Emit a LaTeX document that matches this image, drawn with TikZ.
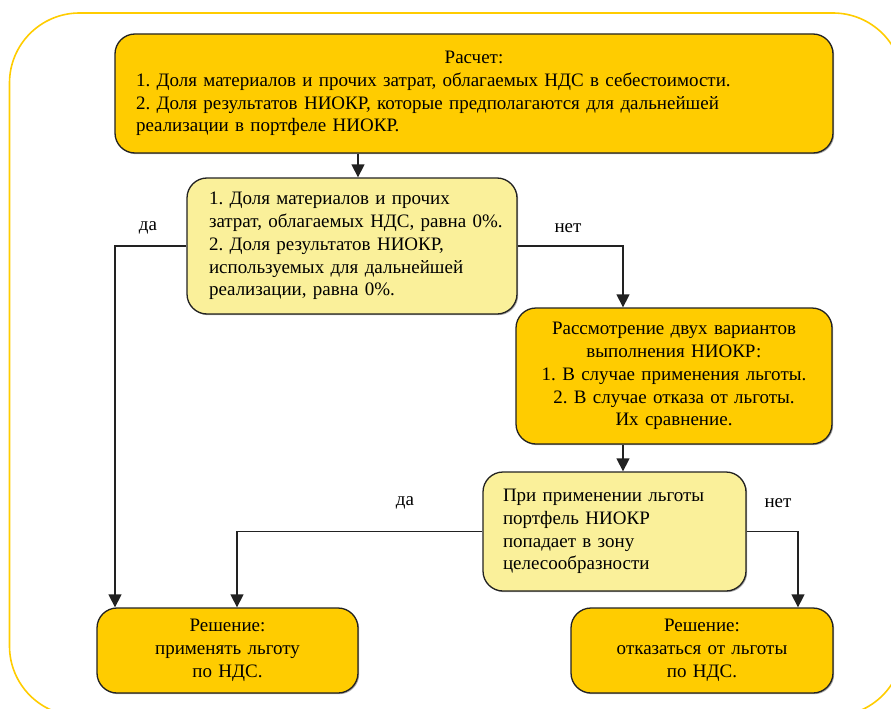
\documentclass[tikz,border=0pt]{standalone}
\usepackage{fontspec}
\setmainfont{Liberation Serif}
\usetikzlibrary{arrows.meta,shadows}
\definecolor{darkY}{HTML}{FFCC00}
\definecolor{lightY}{HTML}{FAF09A}
\definecolor{frameY}{HTML}{FFCC00}
\definecolor{lineG}{HTML}{222222}
\frenchspacing
\hbadness=10000 \hfuzz=100pt
\tikzset{
  box/.style={draw=lineG, line width=1.3pt, rounded corners=20pt, inner sep=0pt,
    font=\fontsize{19}{22.8}\selectfont,
    drop shadow={shadow xshift=1.2pt, shadow yshift=-1.2pt, fill=black!55, opacity=0.6}},
  darkbox/.style={box, fill=darkY},
  lightbox/.style={box, fill=lightY},
  arr/.style={draw=lineG, line width=1.3pt, -{Triangle[width=13pt,length=13pt]}},
  lbl/.style={font=\fontsize{19}{22}\selectfont, inner sep=0pt}
}
\begin{document}
\begin{tikzpicture}[x=1pt,y=-1pt]
\useasboundingbox (0,0) rectangle (891,709);
\draw[frameY, line width=1.6pt, rounded corners=70pt] (9.5,13) rectangle (903,716);

\node[darkbox, minimum width=718pt, minimum height=119pt, text width=676pt, align=left] (b1) at (474,93.5)
 {\makebox[676pt]{Расчет:}\\1. Доля материалов и прочих затрат, облагаемых НДС в себестоимости.\\
  2. Доля результатов НИОКР, которые предполагаются для дальнейшей\\
  реализации в портфеле НИОКР.};

\node[lightbox, minimum width=330pt, minimum height=136pt, text width=286pt, align=left] (b2) at (352,246)
 {1. Доля материалов и прочих\\затрат,~облагаемых~НДС,~равна~0\%.\\2. Доля результатов НИОКР,\\используемых для дальнейшей\\реализации, равна 0\%.};

\node[darkbox, minimum width=316pt, minimum height=136pt, text width=300pt, align=center] (b3) at (674,376)
 {Рассмотрение двух вариантов\\выполнения НИОКР:\\1. В случае применения льготы.\\2. В случае отказа от льготы.\hspace*{23pt}\\Их сравнение.};

\node[lightbox, minimum width=263pt, minimum height=119pt, text width=223pt, align=left] (b4) at (614.5,531.5)
 {При применении льготы\\портфель НИОКР\\попадает в зону\\целесообразности\\[4pt]};

\node[darkbox, minimum width=261pt, minimum height=85pt, text width=250pt, align=center] (b5) at (227.5,650.5)
 {Решение:\\применять льготу\\по НДС.};

\node[darkbox, minimum width=262pt, minimum height=85pt, text width=250pt, align=center] (b6) at (702,650.5)
 {Решение:\\отказаться от льготы\\по НДС.};

\coordinate (cx1) at (358,0);
\coordinate (cx2) at (623,0);
\coordinate (cx3) at (798,0);
\coordinate (cx4) at (115,0);
\coordinate (cx5) at (237,0);

\draw[arr] (cx1 |- b1.south) -- (cx1 |- b2.north);
\draw[arr] (b2.east) -| (cx2 |- b3.north);
\draw[arr] (cx2 |- b3.south) -- (cx2 |- b4.north);
\draw[arr] (b4.east) -| (cx3 |- b6.north);
\draw[arr] (b2.west) -| (cx4 |- b5.north);
\draw[arr] (b4.west) -| (cx5 |- b5.north);

\node[lbl] (l1) at (148,228) {да};
\node[lbl] (l2) at (568,228) {нет};
\node[lbl] (l3) at (405,503) {да};
\node[lbl] (l4) at (778,503) {нет};
\end{tikzpicture}
\end{document}
